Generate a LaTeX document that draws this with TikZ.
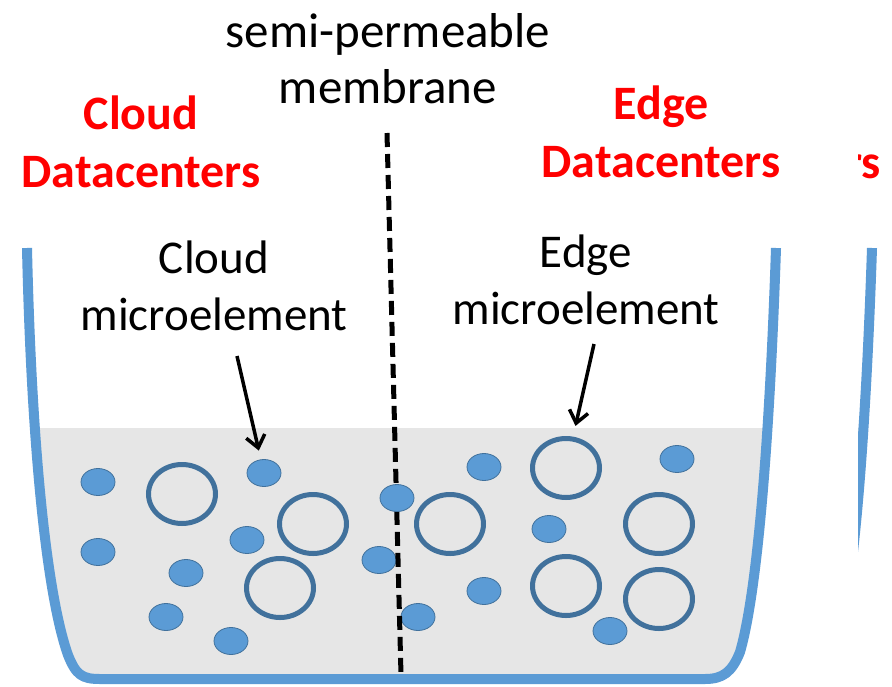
\documentclass[tikz,border=0pt]{standalone}
\usepackage{fontspec}
\setmainfont{Carlito}
\usetikzlibrary{shapes.geometric,arrows.meta}
\definecolor{wallblue}{HTML}{5B9BD5}
\definecolor{ringblue}{HTML}{41719C}
\definecolor{liquid}{HTML}{E6E6E6}
\definecolor{dcred}{HTML}{FF0000}
\newcommand{\containerpath}{(27,248) .. controls (31,430) and (45,590) .. (68,655) .. controls (76,675) and (82,679) .. (100,679) -- (705,679) .. controls (723,679) and (732,672) .. (740,652) .. controls (758,590) and (770,430) .. (776,248)}
\begin{document}
\begin{tikzpicture}[x=1pt,y=-1pt,
  dot/.style={ellipse, fill=wallblue, draw=ringblue, line width=0.8pt, minimum width=34pt, minimum height=27pt, inner sep=0pt},
  ring/.style={ellipse, draw=ringblue, line width=5pt, minimum width=67pt, minimum height=59pt, inner sep=0pt},
  lbl/.style={font=\fontsize{47}{57}\selectfont, align=center, inner sep=0pt},
  memlbl/.style={font=\fontsize{49}{56}\selectfont, align=center, inner sep=0pt},
  dclbl/.style={font=\fontsize{48}{58}\bfseries\selectfont, text=dcred, align=center, inner sep=0pt},
  arr/.style={-{Straight Barb[length=12pt,width=19pt,line width=3.5pt]}, line width=3.5pt},
  wall/.style={draw=wallblue, line width=10pt, line join=round},
  membrane/.style={line width=5pt, dash pattern=on 14pt off 7pt}]

\useasboundingbox[fill=white] (0,0) rectangle (892,686);

% liquid and container
\begin{scope}
  \clip (0,428) rectangle (892,686);
  \fill[liquid] \containerpath -- cycle;
\end{scope}
\draw[wall] \containerpath;

% fragment of a neighbouring copy at the right edge
\begin{scope}
  \clip (858,0) rectangle (892,686);
  \begin{scope}[xshift=96pt]
    \begin{scope}
      \clip (0,428) rectangle (892,686);
      \fill[liquid] \containerpath -- cycle;
    \end{scope}
    \draw[wall] \containerpath;
  \end{scope}
  \node[dclbl, anchor=base east] (fragdc) at (881,178) {rs};
\end{scope}

% labels
\node[memlbl, anchor=north] (membranelbl) at (388,13) {semi-permeable\\membrane};
\node[dclbl, anchor=north] (clouddc) at (141,96) {Cloud\\Datacenters};
\node[dclbl, anchor=north] (edgedc) at (661,86) {Edge\\Datacenters};
\node[lbl, anchor=north] (cloudme) at (214,241) {Cloud\\microelement};
\node[lbl, anchor=north] (edgeme) at (586,235) {Edge\\microelement};

% rings (edge microelements)
\node[ring] (r1) at (182,494) {};
\node[ring] (r2) at (313,524) {};
\node[ring] (r3) at (280,588) {};
\node[ring] (r4) at (450,524) {};
\node[ring] (r5) at (566,468) {};
\node[ring] (r6) at (659,524) {};
\node[ring] (r7) at (566,586) {};
\node[ring] (r8) at (659,599) {};

% dots (cloud microelements)
\node[dot] (d1) at (98,482) {};
\node[dot] (d2) at (264,473) {};
\node[dot] (d3) at (98,552) {};
\node[dot] (d4) at (247,540) {};
\node[dot] (d5) at (186,573) {};
\node[dot] (d6) at (166,617) {};
\node[dot] (d7) at (231,641) {};
\node[dot] (d8) at (379,560) {};
\node[dot] (d10) at (418,617) {};
\node[dot] (d11) at (484,467) {};
\node[dot] (d12) at (677,459) {};
\node[dot] (d13) at (549,529) {};
\node[dot] (d14) at (484,591) {};
\node[dot] (d15) at (610,631) {};

% membrane
\coordinate (memtop) at (387,133);
\coordinate (membot) at (401,675);
\draw[membrane] (memtop) -- (membot);
\node[dot] (d9) at (397,498) {};

% arrows
\coordinate (cloudtail) at (237,356);
\coordinate (edgetail) at (594,344);
\draw[arr, shorten >=9pt] (cloudtail) -- (d2);
\draw[arr, shorten >=11pt] (edgetail) -- (r5);
\end{tikzpicture}
\end{document}
